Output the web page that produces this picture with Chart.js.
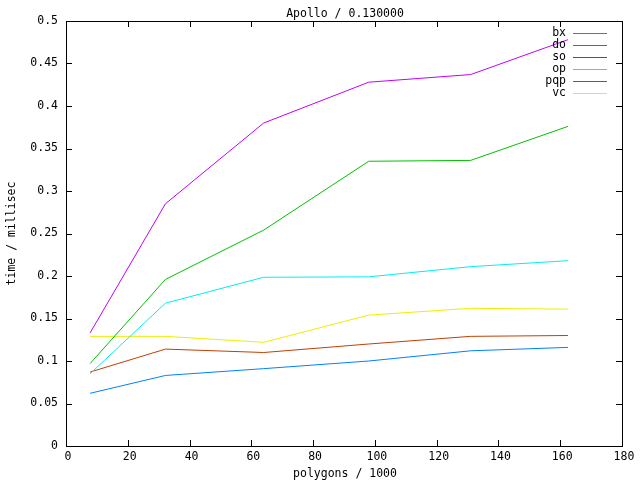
<!DOCTYPE html>
<html>
<head>
<meta charset="utf-8">
<script src="https://cdn.jsdelivr.net/npm/chart.js@4/dist/chart.umd.min.js"></script>
<style>
html,body{margin:0;padding:0;background:#fff;}
canvas{display:block;}
</style>
</head>
<body>
<canvas id="c" width="640" height="480"></canvas>
<script>
const chartTitle = "Apollo / 0.130000";
const xTitle = "polygons / 1000";
const yTitle = "time / millisec";
const polygons = [7.8, 32.2, 64, 98, 131, 162.5];
const seriesNames = ["bx", "do", "so", "op", "pqp", "vc"];
const seriesColors = ["#00c000", "#0080ff", "#c000ff", "#00eeee", "#c04000", "#eeee00"];
const bx  = [0.097, 0.196, 0.254, 0.335, 0.336, 0.376];
const dO  = [0.062, 0.083, 0.091, 0.100, 0.112, 0.116];
const so  = [0.133, 0.285, 0.380, 0.428, 0.437, 0.478];
const op  = [0.085, 0.168, 0.1985, 0.199, 0.211, 0.218];
const pqp = [0.087, 0.114, 0.110, 0.120, 0.129, 0.130];
const vc  = [0.129, 0.129, 0.122, 0.154, 0.162, 0.161];
const seriesValues = [bx, dO, so, op, pqp, vc];
const xTicks = [0, 20, 40, 60, 80, 100, 120, 140, 160, 180];
const yTicks = [0, 0.05, 0.1, 0.15, 0.2, 0.25, 0.3, 0.35, 0.4, 0.45, 0.5];
const yTickLabels = ["0", "0.05", "0.1", "0.15", "0.2", "0.25", "0.3", "0.35", "0.4", "0.45", "0.5"];

const FONT = "DejaVu Sans Mono";
const FS = 11.5;

const gnuplotDecor = {
  id: 'gnuplotDecor',
  afterDraw(chart) {
    const ctx = chart.ctx;
    const a = chart.chartArea;
    const xs = chart.scales.x, ys = chart.scales.y;
    ctx.save();
    ctx.strokeStyle = '#000';
    ctx.lineWidth = 1;
    ctx.strokeRect(Math.round(a.left) + 0.5, Math.round(a.top) + 0.5,
                   Math.round(a.right - a.left), Math.round(a.bottom - a.top));
    ctx.beginPath();
    const tl = 6;
    xTicks.forEach(v => {
      const px = Math.round(xs.getPixelForValue(v)) + 0.5;
      ctx.moveTo(px, a.bottom); ctx.lineTo(px, a.bottom - tl);
      ctx.moveTo(px, a.top); ctx.lineTo(px, a.top + tl);
    });
    yTicks.forEach(v => {
      const py = Math.round(ys.getPixelForValue(v)) + 0.5;
      ctx.moveTo(a.left, py); ctx.lineTo(a.left + tl, py);
      ctx.moveTo(a.right, py); ctx.lineTo(a.right - tl, py);
    });
    ctx.stroke();
    ctx.fillStyle = '#000';
    ctx.font = FS + 'px "' + FONT + '"';
    ctx.textBaseline = 'middle';
    ctx.textAlign = 'center';
    xTicks.forEach(v => {
      ctx.fillText(String(v), xs.getPixelForValue(v) + 2, a.bottom + 11);
    });
    ctx.textAlign = 'right';
    yTicks.forEach((v, i) => {
      ctx.fillText(yTickLabels[i], a.left - 8, ys.getPixelForValue(v));
    });
    ctx.textAlign = 'center';
    const cx = (a.left + a.right) / 2 + 1;
    ctx.fillText(chartTitle, cx, 14);
    ctx.fillText(xTitle, cx, 474);
    ctx.save();
    ctx.translate(12, (a.top + a.bottom) / 2);
    ctx.rotate(-Math.PI / 2);
    ctx.fillText(yTitle, 0, 0);
    ctx.restore();
    seriesNames.forEach((name, i) => {
      const y = 33 + i * 12;
      ctx.textAlign = 'right';
      ctx.fillStyle = '#000';
      ctx.fillText(name, a.right - 56, y);
      ctx.fillStyle = seriesColors[i];
      ctx.fillRect(Math.round(a.right - 49), y, 34, 1);
    });
    ctx.restore();
  }
};

const datasets = seriesNames.map((name, i) => ({
  label: name,
  data: polygons.map((x, j) => ({x: x, y: seriesValues[i][j]})),
  borderColor: seriesColors[i],
  backgroundColor: seriesColors[i],
  borderWidth: 1,
  pointRadius: 0,
  tension: 0,
  fill: false
}));

new Chart(document.getElementById('c'), {
  type: 'line',
  data: { datasets },
  options: {
    responsive: false,
    devicePixelRatio: 1,
    animation: false,
    layout: { padding: { left: 0, right: 18, top: 21, bottom: 0 } },
    plugins: { legend: { display: false }, title: { display: false }, tooltip: { enabled: false } },
    scales: {
      x: {
        type: 'linear', min: 0, max: 180,
        afterFit: s => { s.height = 34; },
        grid: { display: false },
        border: { display: false },
        ticks: { display: false }
      },
      y: {
        type: 'linear', min: 0, max: 0.5,
        afterFit: s => { s.width = 66; },
        grid: { display: false },
        border: { display: false },
        ticks: { display: false }
      }
    }
  },
  plugins: [gnuplotDecor]
});
</script>
</body>
</html>
